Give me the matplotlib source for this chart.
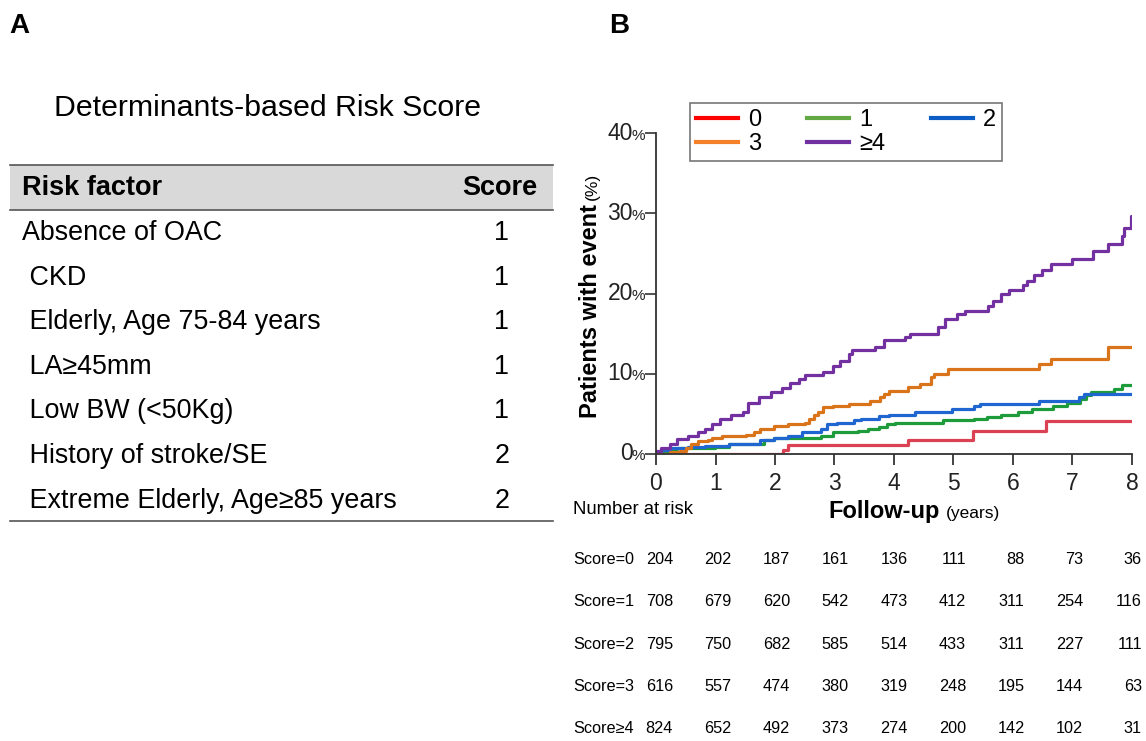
import matplotlib
matplotlib.use("Agg")
import matplotlib.pyplot as plt
from matplotlib import transforms
from matplotlib.lines import Line2D
from matplotlib.patches import Rectangle

plt.rcParams['font.family'] = ['Liberation Sans', 'DejaVu Sans']

# 表格A的数据
risk_factors = ["Absence of OAC", " CKD", " Elderly, Age 75-84 years", " LA≥45mm",
                " Low BW (<50Kg)", " History of stroke/SE", " Extreme Elderly, Age≥85 years"]
risk_scores = [1, 1, 1, 1, 1, 2, 2]

# 累积事件曲线（年, %）
t0 = [0, 2.13, 2.22, 4.24, 5.32, 6.55]
y0 = [0, 0.5, 1.1, 1.8, 2.9, 4.1]

t1 = [0, 0.18, 0.35, 0.99, 1.23, 1.58, 1.81, 1.99, 2.78, 2.98, 3.39, 3.57, 3.74, 3.89,
      4.01, 4.82, 5.35, 5.56, 5.79, 6.08, 6.32, 6.67, 6.90, 7.13, 7.22, 7.31, 7.69, 7.84]
y1 = [0.2, 0.6, 0.8, 0.9, 1.2, 1.3, 1.7, 2.0, 2.3, 2.7, 2.9, 3.1, 3.4, 3.7,
      3.9, 4.2, 4.4, 4.6, 4.8, 5.2, 5.6, 6.0, 6.4, 6.9, 7.3, 7.7, 8.1, 8.6]

t2 = [0, 0.09, 0.23, 0.53, 0.82, 1.23, 1.40, 1.75, 1.99, 2.22, 2.46, 2.78, 2.87, 3.04,
      3.33, 3.45, 3.74, 3.92, 4.36, 4.97, 5.35, 5.44, 6.43, 7.11, 7.19]
y2 = [0.2, 0.5, 0.7, 0.9, 1.0, 1.2, 1.3, 1.7, 2.0, 2.3, 2.7, 3.1, 3.7, 3.9,
      4.2, 4.4, 4.7, 4.9, 5.2, 5.6, 6.0, 6.2, 6.6, 7.1, 7.5]

t3 = [0, 0.23, 0.41, 0.50, 0.58, 0.70, 0.88, 0.94, 1.11, 1.52, 1.64, 1.75, 1.99, 2.22,
      2.51, 2.57, 2.66, 2.72, 2.81, 2.98, 3.25, 3.60, 3.77, 3.83, 3.92, 4.24, 4.44, 4.62,
      4.68, 4.91, 6.43, 6.64, 7.60]
y3 = [0, 0.2, 0.4, 0.8, 1.2, 1.6, 1.7, 2.0, 2.2, 2.4, 2.7, 3.1, 3.5, 3.7,
      3.9, 4.4, 4.8, 5.2, 5.8, 6.0, 6.2, 6.6, 7.1, 7.5, 7.9, 8.3, 8.7, 9.6,
      10.0, 10.6, 11.2, 11.8, 13.3]

t4 = [0, 0.09, 0.23, 0.35, 0.53, 0.70, 0.82, 0.94, 1.08, 1.26, 1.46, 1.55, 1.73, 1.93,
      2.11, 2.25, 2.40, 2.51, 2.81, 2.98, 3.10, 3.25, 3.30, 3.68, 3.83, 4.18, 4.27, 4.74,
      4.85, 5.06, 5.20, 5.58, 5.67, 5.79, 5.94, 6.17, 6.23, 6.35, 6.49, 6.64, 6.99, 7.34,
      7.60, 7.84, 7.87, 7.99]
y4 = [0.4, 0.8, 1.3, 1.9, 2.3, 2.7, 3.1, 3.7, 4.4, 4.8, 5.2, 6.4, 7.1, 7.7,
      8.2, 8.8, 9.3, 9.8, 10.2, 11.0, 11.6, 12.5, 12.9, 13.3, 14.2, 14.6, 15.0, 15.8,
      16.8, 17.4, 17.8, 18.5, 19.1, 19.9, 20.4, 21.0, 21.6, 22.3, 22.9, 23.7, 24.3, 25.3,
      26.2, 27.2, 28.2, 29.7]

group_names = ["0", "1", "2", "3", "≥4"]
curve_colors = ["#DA4253", "#1E9B3A", "#1F66D1", "#D9741A", "#7230A0"]
legend_colors = ["#FF0000", "#62A844", "#0B5CC4", "#F4802A", "#7030A0"]

# 风险人数表
risk_labels = ["Score=0", "Score=1", "Score=2", "Score=3", "Score≥4"]
at_risk = [
    [204, 202, 187, 161, 136, 111, 88, 73, 36],
    [708, 679, 620, 542, 473, 412, 311, 254, 116],
    [795, 750, 682, 585, 514, 433, 311, 227, 111],
    [616, 557, 474, 380, 319, 248, 195, 144, 63],
    [824, 652, 492, 373, 274, 200, 142, 102, 31],
]
years = list(range(9))
y_ticks = [0, 10, 20, 30, 40]

W, H = 1146, 741
fig = plt.figure(figsize=(W / 100, H / 100), dpi=100)

# ---------------- A ----------------
fig.text(9 / W, 1 - 26 / H, "A", fontsize=20, fontweight='bold', va='center')
fig.text(609 / W, 1 - 26 / H, "B", fontsize=20, fontweight='bold', va='center')

axa = fig.add_axes([0, 0, 0.5, 1])
axa.set_xlim(0, 573)
axa.set_ylim(741, 0)
axa.axis('off')

axa.text(54, 108, "Determinants-based Risk Score", fontsize=21.8, va='center', ha='left')
axa.add_patch(Rectangle((10, 165), 543, 45, facecolor='#D9D9D9', edgecolor='none'))
axa.plot([10, 553], [165, 165], color='#555555', lw=1.2)
axa.plot([10, 553], [210, 210], color='#555555', lw=1.2)
axa.text(22, 188, "Risk factor", fontsize=19.5, fontweight='bold', va='center')
axa.text(537, 188, "Score", fontsize=19.5, fontweight='bold', va='center', ha='right')
for i, (name, sc) in enumerate(zip(risk_factors, risk_scores)):
    yy = 233 + 44.6 * i
    axa.text(22, yy, name, fontsize=19.4, va='center')
    axa.text(502, yy, str(sc), fontsize=19.4, va='center', ha='center')
axa.plot([10, 553], [521, 521], color='#555555', lw=1.2)

# ---------------- B ----------------
ax = fig.add_axes([656 / W, 1 - 454 / H, 476 / W, 321 / H])
ts = [t0, t1, t2, t3, t4]
ys = [y0, y1, y2, y3, y4]
for t, y, c in zip(ts, ys, curve_colors):
    ax.step(t + [8], y + [y[-1]], where='post', color=c, lw=2.3)

ax.set_xlim(0, 8)
ax.set_ylim(0, 40)
ax.set_xticks(years)
ax.set_yticks(y_ticks)
ax.set_yticklabels([])
ax.tick_params(axis='x', labelsize=16.5, length=8, width=1.2, direction='out', pad=5, colors='#222222')
ax.tick_params(axis='y', length=8, width=1.2, direction='out', colors='#333333')
for s in ['top', 'right']:
    ax.spines[s].set_visible(False)
for s in ['left', 'bottom']:
    ax.spines[s].set_linewidth(1.3)
    ax.spines[s].set_color('#333333')

# y 刻度标签：数字 + 小号的 %
blend = transforms.blended_transform_factory(ax.transAxes, ax.transData)
tr_pct = transforms.offset_copy(blend, fig=fig, x=-11, y=-6.5, units='dots')
tr_num = transforms.offset_copy(blend, fig=fig, x=-23, y=-6.5, units='dots')
for v in y_ticks:
    ax.text(0, v, "%", fontsize=11, ha='right', va='baseline', transform=tr_pct, color='#222222')
    ax.text(0, v, str(v), fontsize=16.5, ha='right', va='baseline', transform=tr_num, color='#222222')

# y轴标题
fig.text(597 / W, 1 - 418 / H, "Patients with event", fontsize=17, fontweight='bold',
         rotation=90, rotation_mode='anchor', ha='left', va='baseline')
fig.text(597 / W, 1 - 200 / H, "(%)", fontsize=12.5,
         rotation=90, rotation_mode='anchor', ha='left', va='baseline')

# x轴标题
fig.text(940 / W, 1 - 518 / H, "Follow-up", fontsize=17, fontweight='bold', ha='right', va='baseline')
fig.text(946 / W, 1 - 518 / H, "(years)", fontsize=12.5, ha='left', va='baseline')
fig.text(573 / W, 1 - 514 / H, "Number at risk", fontsize=13.3, ha='left', va='baseline')

# 图例（按行排列：0,1,2 / 3,≥4）
handles = [Line2D([], [], color=c, lw=3) for c in legend_colors]
order = [0, 3, 1, 4, 2]
leg = ax.legend([handles[i] for i in order], [group_names[i] for i in order],
                ncol=3, loc='upper left', bbox_to_anchor=(0.071, 1.093),
                fontsize=17, frameon=True, fancybox=False, handlelength=1.78,
                handletextpad=0.42, columnspacing=1.95, borderpad=0.25, labelspacing=0.08,
                borderaxespad=0)
leg.get_frame().set_edgecolor('#555555')
leg.get_frame().set_linewidth(1.2)

# 风险人数表：行中心 560 + 42*r 像素
n_rows = len(risk_labels)
axr = fig.add_axes([656 / W, 1 - (560 + 42 * (n_rows - 0.5)) / H, 476 / W, 42 * n_rows / H])
axr.set_xlim(0, 8)
axr.set_ylim(n_rows - 0.5, -0.5)
axr.axis('off')
for r, (lab, row) in enumerate(zip(risk_labels, at_risk)):
    axr.text(-1.398, r, lab, fontsize=11.7, ha='left', va='center', clip_on=False)
    for k, n in zip(years, row):
        axr.text(k + 0.286 - 0.015 * k, r, str(n), fontsize=11.7, ha='right', va='center', clip_on=False)

plt.savefig('out.png', dpi=100)
